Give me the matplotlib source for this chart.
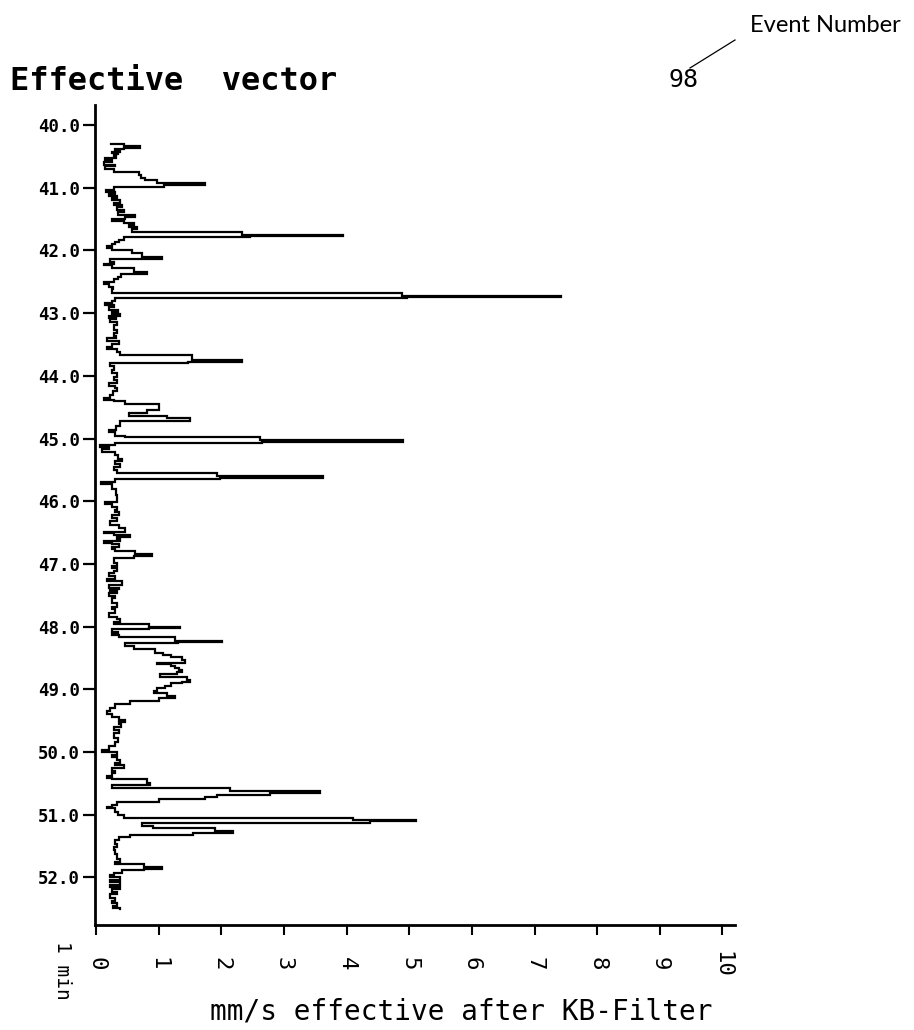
import matplotlib
matplotlib.use("Agg")
import matplotlib.pyplot as plt
from matplotlib.lines import Line2D

# ---- data: step breakpoints (minute, mm/s effective) ----
minutes = [
    40.300, 40.305, 40.335, 40.370, 40.390, 40.410, 40.430, 40.450, 40.470, 40.500,
    40.530, 40.560, 40.590, 40.630, 40.660, 40.700, 40.755, 40.800, 40.840, 40.877,
    40.920, 40.957, 40.994, 41.037, 41.070, 41.100, 41.140, 41.170, 41.200, 41.240,
    41.270, 41.310, 41.350, 41.390, 41.435, 41.460, 41.505, 41.530, 41.568, 41.600,
    41.630, 41.660, 41.700, 41.754, 41.770, 41.790, 41.830, 41.860, 41.890, 41.930,
    41.960, 41.990, 42.047, 42.100, 42.137, 42.180, 42.210, 42.240, 42.286, 42.340,
    42.376, 42.420, 42.450, 42.500, 42.540, 42.580, 42.620, 42.675, 42.720, 42.745,
    42.765, 42.800, 42.844, 42.870, 42.900, 42.950, 42.990, 43.020, 43.046, 43.080,
    43.100, 43.136, 43.190, 43.270, 43.323, 43.360, 43.400, 43.440, 43.500, 43.535,
    43.577, 43.615, 43.665, 43.755, 43.780, 43.800, 43.850, 43.900, 43.960, 44.020,
    44.070, 44.120, 44.170, 44.200, 44.250, 44.300, 44.360, 44.386, 44.400, 44.450,
    44.545, 44.600, 44.640, 44.680, 44.720, 44.800, 44.865, 44.900, 44.960, 44.980,
    45.030, 45.055, 45.077, 45.100, 45.130, 45.170, 45.220, 45.270, 45.320, 45.360,
    45.400, 45.450, 45.500, 45.545, 45.600, 45.630, 45.650, 45.700, 45.720, 45.800,
    45.900, 46.020, 46.050, 46.090, 46.140, 46.180, 46.220, 46.270, 46.310, 46.380,
    46.430, 46.486, 46.510, 46.540, 46.577, 46.600, 46.630, 46.660, 46.680, 46.735,
    46.770, 46.800, 46.840, 46.880, 46.910, 46.990, 47.040, 47.070, 47.120, 47.150,
    47.200, 47.240, 47.280, 47.340, 47.380, 47.405, 47.440, 47.470, 47.510, 47.550,
    47.630, 47.680, 47.720, 47.790, 47.840, 47.884, 47.920, 47.958, 48.000, 48.020,
    48.044, 48.086, 48.120, 48.140, 48.170, 48.224, 48.250, 48.267, 48.310, 48.360,
    48.416, 48.450, 48.480, 48.530, 48.575, 48.600, 48.628, 48.660, 48.690, 48.730,
    48.756, 48.800, 48.850, 48.880, 48.905, 48.947, 48.985, 49.020, 49.064, 49.107,
    49.144, 49.180, 49.234, 49.300, 49.350, 49.400, 49.440, 49.490, 49.520, 49.560,
    49.600, 49.650, 49.700, 49.770, 49.835, 49.900, 49.970, 50.000, 50.040, 50.075,
    50.130, 50.170, 50.210, 50.260, 50.300, 50.340, 50.383, 50.410, 50.436, 50.490,
    50.530, 50.580, 50.617, 50.660, 50.686, 50.710, 50.755, 50.790, 50.840, 50.870,
    50.900, 50.960, 51.005, 51.050, 51.080, 51.100, 51.140, 51.180, 51.218, 51.255,
    51.287, 51.320, 51.360, 51.400, 51.460, 51.520, 51.560, 51.630, 51.700, 51.750,
    51.786, 51.840, 51.870, 51.880, 51.925, 51.960, 51.990, 52.040, 52.080, 52.120,
    52.160, 52.190, 52.230, 52.270, 52.330, 52.370, 52.410, 52.450, 52.490, 52.500,
]
mm_s = [
    0.24, 0.45, 0.70, 0.45, 0.30, 0.38, 0.26, 0.35, 0.28, 0.32,
    0.15, 0.25, 0.12, 0.30, 0.14, 0.28, 0.68, 0.72, 0.78, 0.97,
    1.74, 1.08, 0.29, 0.16, 0.30, 0.20, 0.33, 0.25, 0.38, 0.28,
    0.42, 0.33, 0.45, 0.35, 0.62, 0.46, 0.25, 0.45, 0.60, 0.52,
    0.65, 0.58, 2.33, 3.95, 2.46, 0.44, 0.36, 0.30, 0.25, 0.18,
    0.25, 0.57, 0.73, 1.05, 0.22, 0.28, 0.13, 0.25, 0.60, 0.81,
    0.40, 0.35, 0.28, 0.12, 0.20, 0.27, 0.25, 4.88, 7.43, 4.97,
    0.31, 0.25, 0.14, 0.28, 0.20, 0.35, 0.25, 0.38, 0.20, 0.32,
    0.22, 0.33, 0.28, 0.33, 0.28, 0.32, 0.17, 0.36, 0.25, 0.17,
    0.33, 0.38, 1.53, 2.33, 1.47, 0.22, 0.28, 0.25, 0.33, 0.28,
    0.33, 0.20, 0.30, 0.33, 0.27, 0.22, 0.12, 0.29, 0.46, 1.00,
    0.81, 0.52, 1.14, 1.50, 0.38, 0.32, 0.21, 0.30, 0.46, 2.62,
    4.90, 2.65, 0.30, 0.06, 0.20, 0.10, 0.30, 0.35, 0.41, 0.30,
    0.38, 0.28, 0.33, 1.93, 3.63, 1.98, 0.30, 0.08, 0.25, 0.32,
    0.33, 0.14, 0.25, 0.33, 0.30, 0.36, 0.25, 0.33, 0.22, 0.36,
    0.46, 0.12, 0.28, 0.54, 0.33, 0.38, 0.12, 0.25, 0.36, 0.25,
    0.30, 0.62, 0.89, 0.60, 0.28, 0.33, 0.25, 0.33, 0.28, 0.20,
    0.30, 0.18, 0.41, 0.20, 0.36, 0.22, 0.33, 0.20, 0.30, 0.25,
    0.33, 0.25, 0.30, 0.20, 0.33, 0.38, 0.28, 0.84, 1.34, 0.84,
    0.25, 0.35, 0.25, 0.36, 1.26, 2.01, 1.31, 0.46, 0.60, 0.94,
    1.07, 1.20, 1.37, 1.42, 0.97, 1.20, 1.26, 1.32, 1.38, 1.30,
    1.02, 1.45, 1.50, 1.38, 1.20, 1.10, 0.97, 0.92, 1.13, 1.26,
    1.00, 0.54, 0.30, 0.22, 0.17, 0.25, 0.36, 0.46, 0.36, 0.40,
    0.28, 0.36, 0.28, 0.35, 0.30, 0.20, 0.09, 0.33, 0.25, 0.33,
    0.38, 0.30, 0.44, 0.25, 0.30, 0.25, 0.17, 0.26, 0.81, 0.86,
    0.26, 2.14, 3.58, 2.78, 1.93, 1.74, 1.00, 0.33, 0.25, 0.17,
    0.30, 0.35, 0.44, 4.11, 5.11, 4.38, 0.73, 0.91, 1.90, 2.19,
    1.55, 0.54, 0.36, 0.30, 0.33, 0.28, 0.30, 0.33, 0.38, 0.30,
    0.76, 1.06, 0.76, 0.41, 0.28, 0.22, 0.38, 0.22, 0.38, 0.22,
    0.38, 0.25, 0.33, 0.22, 0.30, 0.25, 0.33, 0.27, 0.38, 0.38,
]

y_ticks = [40.0, 41.0, 42.0, 43.0, 44.0, 45.0, 46.0, 47.0, 48.0, 49.0, 50.0, 51.0, 52.0]
y_tick_labels = ["40.0", "41.0", "42.0", "43.0", "44.0", "45.0", "46.0",
                 "47.0", "48.0", "49.0", "50.0", "51.0", "52.0"]
x_ticks = [0, 1, 2, 3, 4, 5, 6, 7, 8, 9, 10]
x_tick_labels = ["0", "1", "2", "3", "4", "5", "6", "7", "8", "9", "10"]

title_text = "Effective  vector"
event_number = "98"
event_label = "Event Number"
x_label = "mm/s effective after KB-Filter"
time_unit = "1 min"

W, H = 914, 1030
MONO = "DejaVu Sans Mono"

fig = plt.figure(figsize=(W / 100, H / 100), dpi=100)
fig.patch.set_facecolor("white")
ax = fig.add_axes([95 / W, 1 - 925 / H, 640 / W, 820 / H])

# step trace: value held over each time interval, horizontal jumps
ax.plot(mm_s, minutes, drawstyle="steps-pre", color="black", lw=1.6,
        solid_joinstyle="miter")

ax.set_xlim(-0.016, 10.2)
ax.set_ylim(52.759, 39.681)

for s in ("top", "right"):
    ax.spines[s].set_visible(False)
ax.spines["left"].set_linewidth(2.0)
ax.spines["bottom"].set_linewidth(2.0)

ax.set_yticks(y_ticks)
ax.set_yticklabels(y_tick_labels, fontfamily=MONO, fontweight="bold", fontsize=12.5)
ax.tick_params(axis="y", direction="out", length=8.6, width=1.6, pad=2)

ax.set_xticks(x_ticks)
ax.set_xticklabels(x_tick_labels, fontfamily=MONO, fontsize=16, rotation=270)
ax.tick_params(axis="x", direction="out", length=7.2, width=1.5, pad=21)
for lab in ax.get_xticklabels():
    lab.set_va("center")

def fx(px):
    return px / W

def fy(py):
    return 1 - py / H

fig.text(fx(10), fy(81), title_text, fontfamily=MONO, fontweight="bold",
         fontsize=23, ha="left", va="center")
fig.text(fx(683), fy(80), event_number, fontfamily=MONO, fontsize=18,
         ha="center", va="center")
fig.text(fx(750), fy(25), event_label, fontfamily="Lato", fontsize=17,
         ha="left", va="center")
fig.add_artist(Line2D([fx(690), fx(735)], [fy(68), fy(40)], color="black", lw=0.9))

fig.text(fx(62), fy(970), time_unit, fontfamily=MONO, fontsize=14,
         rotation=270, ha="center", va="center")
fig.text(fx(461), fy(1012), x_label, fontfamily=MONO, fontsize=20,
         ha="center", va="center")

fig.savefig("out.png", dpi=100)
